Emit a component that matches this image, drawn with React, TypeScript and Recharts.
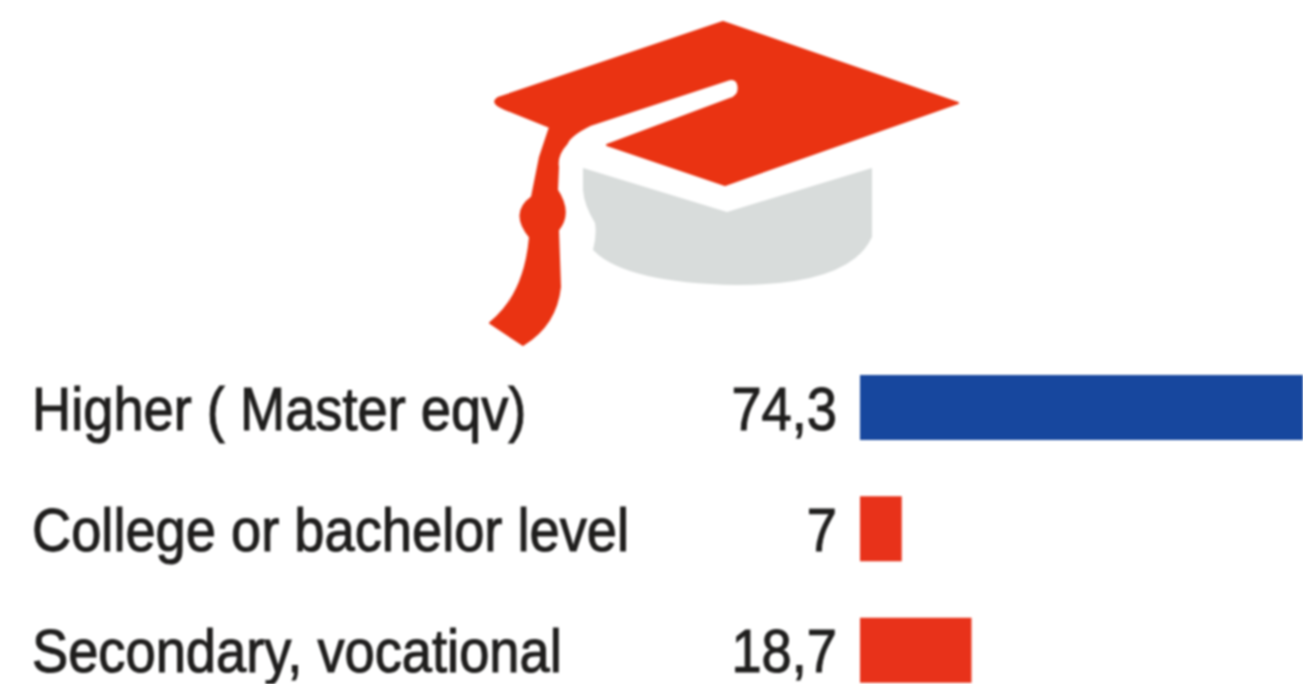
import { BarChart, Bar, XAxis, YAxis, Cell, LabelList } from 'recharts'

const categories = ['Higher ( Master eqv)', 'College or bachelor level', 'Secondary, vocational']
const shares = [74.3, 7, 18.7]
const barColors = ['#17479e', '#e8321a', '#e8321a']

const data = categories.map((name, i) => ({ name, share: shares[i] }))

const FONT = '"Liberation Sans", sans-serif'
const TEXT = '#1f1e1d'
const FONT_SIZE = 62
const SQUEEZE = 0.875

function CapIcon() {
  return (
    <svg width={1303} height={684} style={{ position: 'absolute', left: 0, top: 0 }}>
      <path
        d="M583 168 L727 212 L872 168 L872 237 Q850 285 737 285 Q625 283 593 250 Q597 235 595 223 Q584 205 583 190 Z"
        fill="#d8dcdb"
      />
      <path
        d="M498 98 L723 22 L958 103 L725 185 L607 145 L730 99 Q741 96 738 84 Q736 77 727 80 L590 125 Q570 135 567 143 Q556 155 558 167 L557 190 Q572 213 558 230 L560 287 Q556 325 523 345 L490 323 Q525 295 530 237 Q510 213 532 197 L540 157 L550 127 L505 109 Q490 103 498 98 Z"
        fill="#ea3312"
        stroke="#ea3312"
        strokeWidth={2}
        strokeLinejoin="round"
      />
    </svg>
  )
}

function CategoryTick({ y, payload }: any) {
  return (
    <text
      transform={`translate(32 ${y + 22}) scale(${SQUEEZE} 1)`}
      fontSize={FONT_SIZE}
      fontFamily={FONT}
      fill={TEXT}
      stroke={TEXT}
      strokeWidth={1.1}
    >
      {payload.value}
    </text>
  )
}

function ValueLabel({ x, y, height, value }: any) {
  return (
    <text
      transform={`translate(${x - 23} ${y + height / 2 + 22}) scale(${SQUEEZE} 1)`}
      fontSize={FONT_SIZE}
      fontFamily={FONT}
      fill={TEXT}
      stroke={TEXT}
      strokeWidth={1.1}
      textAnchor="end"
    >
      {String(value).replace('.', ',')}
    </text>
  )
}

export default function App() {
  return (
    <div
      style={{
        position: 'absolute',
        left: 0,
        top: 0,
        width: 1303,
        height: 684,
        overflow: 'hidden',
        background: '#fff',
        filter: 'blur(0.8px)',
      }}
    >
      <CapIcon />
      <div style={{ position: 'absolute', left: 0, top: 0 }}>
        <BarChart
          layout="vertical"
          width={1303}
          height={720}
          data={data}
          margin={{ top: 347, right: 0, bottom: 9, left: 0 }}
          barSize={65}
        >
          <XAxis type="number" hide domain={[0, 74.3]} />
          <YAxis
            type="category"
            dataKey="name"
            width={860}
            axisLine={false}
            tickLine={false}
            tick={<CategoryTick />}
          />
          <Bar dataKey="share" isAnimationActive={false}>
            {data.map((d, i) => (
              <Cell key={d.name} fill={barColors[i]} />
            ))}
            <LabelList dataKey="share" content={<ValueLabel />} />
          </Bar>
        </BarChart>
      </div>
    </div>
  )
}
